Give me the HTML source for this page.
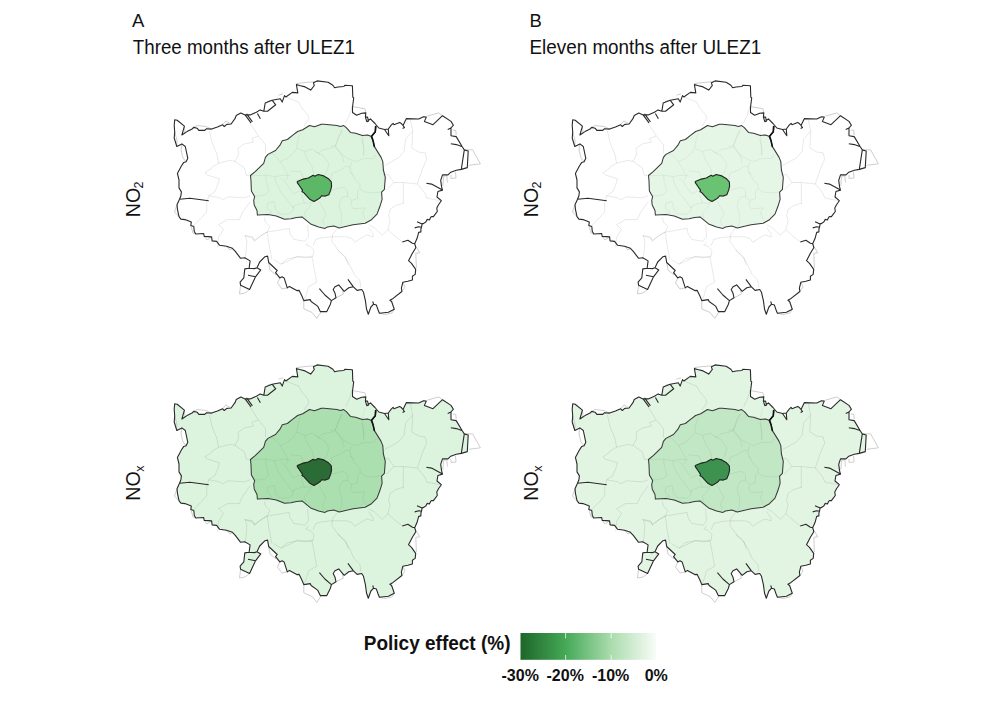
<!DOCTYPE html>
<html><head><meta charset="utf-8"><style>
html,body{margin:0;padding:0;background:#fff;}
body{width:1000px;height:707px;overflow:hidden;position:relative;font-family:"Liberation Sans",sans-serif;}
svg{position:absolute;left:0;top:0;}
</style></head><body>
<svg width="1000" height="707" viewBox="0 0 1000 707">
<defs>
<linearGradient id="cb" x1="0" x2="1" y1="0" y2="0">
<stop offset="0" stop-color="#1d6629"/>
<stop offset="0.333" stop-color="#45a957"/>
<stop offset="0.667" stop-color="#aadcad"/>
<stop offset="1" stop-color="#f8fcf7"/>
</linearGradient>
</defs>
<rect width="1000" height="707" fill="#fff"/>
<g font-family="Liberation Sans, sans-serif" fill="#111">
<text transform="translate(132,26.7) scale(1,1.025)" font-size="18.5">A</text>
<text transform="translate(132.8,54) scale(0.996,1.035)" font-size="18.85">Three months after ULEZ1</text>
<text transform="translate(529.5,26.7) scale(1,1.025)" font-size="18.5">B</text>
<text transform="translate(529.5,54) scale(0.996,1.035)" font-size="18.95">Eleven months after ULEZ1</text>
<text transform="translate(139.6,217.3) rotate(-90)" font-size="19.7">NO<tspan font-size="12.5" dy="3.5" dx="-0.8">2</tspan></text>
<text transform="translate(537.6,217.3) rotate(-90)" font-size="19.7">NO<tspan font-size="12.5" dy="3.5" dx="-0.8">2</tspan></text>
<text transform="translate(140,500.8) rotate(-90)" font-size="19.7">NO<tspan font-size="12.5" dy="3.5" dx="-0.5">x</tspan></text>
<text transform="translate(538,500.8) rotate(-90)" font-size="19.7">NO<tspan font-size="12.5" dy="3.5" dx="-0.5">x</tspan></text>
</g>
<g transform="translate(0,0)">
<path d="M174.7,119.8L177.2,120.2 184.4,126.1 181.9,135 187,131.6 192.1,129.1 193.7,127.4 197.1,128.2 198.8,130.4 204.8,130.4 206.5,128.7 211.6,129.1 217.5,127 222.6,124.8 224.3,126.5 226.8,124.4 231.1,124 235.3,118.1 236.2,115.5 240.8,113 245.1,114.9 250.2,114.9 256.4,112.2 260.1,109.9 263.8,111.3 265.2,103 272.1,100.2 280.3,98.8 282.2,102.1 284.5,95.6 285.8,97 292.3,92.4 297.8,92.9 296.4,84.6 299.6,85.5 305.1,86.9 310.7,90.1 314.3,85.5 313.4,82.8 317.1,80.9 328.1,82.3 332.9,85.3 334.6,87.8 338,87 343.9,86.5 344.8,85.3 352.4,85.7 352.8,97.1 353.7,98 352.5,107.3 352.5,112.5 356.7,115.2 361.7,113.3 365.8,112.9 365.4,117.1 366.8,121.7 370.4,118.9 375,123.5 378.8,128 384.5,129.5 388.8,135.7 388.3,129 391.2,125.2 393.1,123.3 394,124.7 399.7,122.4 401.6,123.8 403,125.5 406.4,118.6 418.7,119 423.5,116.7 426.3,117.1 424.4,121.4 433,124.7 442.5,115.7 451,121.4 453.4,125.2 451,128 451,135.7 456.2,136.6 462.4,147 464.3,149.9 468.2,151 467.3,167.6 461.3,169.4 456.3,170.3 450.8,172.2 448,174.9 442.5,174.9 440.7,180.4 441.6,186.9 442.5,190.1 437.9,191.5 437,197 441.3,200.7 438.5,204.7 436.8,208.1 437.3,211.5 435.1,214.3 433.4,216.6 431.5,216.5 430.5,217.7 429.4,220 427.1,219.4 426,221.7 423.8,223.4 422.1,223.9 421.5,227.3 420.9,229 420.9,231.9 418.7,232.4 417,238.6 414.7,243.7 415.8,247.7 412.4,253.3 408.5,260.7 411.5,263.4 415.7,269.4 415.2,274.4 412.4,276.3 412.4,280 407.8,281.3 402.8,282.3 401.4,288.2 401.9,291.5 393.1,298.4 389.9,300.2 391.6,301.5 394.3,309.2 388.4,312.3 379.4,313.2 378.1,310 376.4,305.1 373.6,304.2 370.9,307 368.3,314.2 366.5,309 365.4,300.6 363.5,292.3 361.7,289.5 357.1,290.4 353.4,286.8 348.8,287.7 344.2,291.4 338.7,284.9 335,286.8 333.2,289.5 335,293.2 336,297.8 331.4,300.6 330.4,304.2 326.8,311.6 320.3,311.6 317.6,306.1 311.1,301.5 310.2,299.6 303.8,300.6 301.9,296 299.2,290.4 296.8,290.6 289.4,286.4 287.3,287.9 284.1,277.9 282,276.8 279.8,277.9 275.6,272.6 277.2,270.5 268.7,262.5 267.6,256.1 265,256.7 259.7,262 257,267.8 260.8,269.9 255.5,276.8 249.6,289.5 240.6,285.3 240.1,282.1 243.8,277.9 244.8,268.9 249.1,268.3 250.1,260.9 244.8,257.7 240.6,258.3 235.3,251.4 232.4,248.3 226.5,246.3 219.6,245.3 216.6,241.4 212.1,240.9 211.6,236.9 204.2,236.4 203.7,233.5 195.8,234 194.3,231.5 193.8,226.5 190.8,225.5 191.3,222.1 184.9,219.6 180.9,219.1 179,216.6 177.5,209.7 177,204.8 179.5,199.3 180.9,195.8 181.4,191.9 179,187.9 179,180 177.4,173.4 181.4,166 183.6,162.6 186.1,161.7 187.8,158.3 185.3,146.5 181.9,143.9 176.8,146.5 174.2,138 174.7,132 174.2,125.3Z" fill="#ffffff" stroke="none"/>
<path d="M250.5,175.5L255.2,171.7 263.7,163.3 265.4,157.3 267.9,154.4 275.5,150.5 279.8,145.4 282.3,140.8 287.4,139.5 292.5,135.3 297.6,131.5 302.7,129.8 309.5,125.5 314.5,126.8 321.3,124.2 324.2,124.3 337,125.6 340.4,126.5 343.7,125.6 346.3,127.7 350.5,132.4 355.6,133.2 362.4,135.4 367.5,134.9 370.9,136.2 373,140.4 374.3,146.4 381.1,157.4 382.8,161.6 383.4,170 385.3,177.4 384.4,189.3 381.6,192.1 382.1,199.4 379.8,206.8 377,214.1 371.5,219.7 365.1,223.3 353.1,224.7 347.6,226.1 339.3,227.9 333.8,226.1 327.4,227 325,228.4 318.6,227 311.2,224.3 302,216.9 296.5,217.4 291,218.7 284.5,219.2 276.3,216 268,214.6 257.4,215.1 257,210.5 254.2,204.9 253.7,200.3 254.7,196.7 251.4,191.1 251,181Z" fill="#dcf3de" stroke="none"/>
<path d="M297.3,181.6L303.3,179.1 308.3,178 313.2,175.2 314.7,176.3 318.2,174.5 323.8,175.9 328.1,178.4 331.3,181.9 331.6,186.2 330.6,190.4 328.8,194.7 325.3,196.1 321.7,195.7 320.3,197.5 317.5,199.6 314,201.4 309.7,199.2 306.2,195.4 304,192.9 301.9,191.5 302.6,190.4 299.8,186.2 297.3,182.6Z" fill="#5cb866" stroke="none"/>
<path d="M184.4,126.1 L181.9,135 L187,131.6 Z" fill="#fff" stroke="none"/>
<path d="M296,83.7L305,82.5 314.3,81.8 M278.5,95.2L283.1,93.8 M352.1,106.5L364.9,108.8 366,112.8 M427.3,116.2L438.7,112.9 442.5,115.7 M452.9,130L455.8,130.4 456.2,135.2 M464.5,150L469.5,149.8 472.6,149.8 480.4,163.8 468.7,165.3 M442.8,186L443.6,176.5 446.8,175.6 447.4,182.5 M451,175L451,178.5 456,178 455.5,172 M414.7,244.3L419.8,252.8 415.8,253.3 416.4,268.1 M401.9,291.5L405,287 402.8,282.3 M394.3,309.2L392,313 385,314.5 379.4,313.2 M336,297.8L343.3,294.1 342.4,289.5 M303.8,300.6L303.8,308.8 312.1,312.5 316.8,318.4 321.2,311.8 M268.7,262.5L270,270 276,275 275.6,272.6 M279.8,277.9L277.5,283 282,289 287.3,287.9 M240.6,285.3L239.5,294 245,293 249.6,289.5 M174.7,132L177,140 176.8,146.5 M181.9,143.9L181,150 183,158 186.1,161.7 M177,204.8L174.5,212 178.7,216.4 M190.8,225.5L193,233 195.8,234 M204.2,236.4L207,240 211.6,236.9 M226.5,246.3L230,250 232.4,248.3 M181.9,135L185,132 184.4,126.1 M192,128.5L197,125.5 206,126.5 211.6,129.1 M222.6,124.8L226,121 231.1,124 M266,103L268,101 272.2,100.4" fill="none" stroke="#c8c8c8" stroke-width="0.9" stroke-linejoin="round"/>
<path d="M209.4,131L212.2,143 216.8,154 218.6,163.2 M218.6,163.2L229.6,160.4 235.1,161.4 244.3,167.8 246.2,175.1 250.8,176.1 M218.6,163.2L212.2,166.9 211.3,168.7 204.8,172.8 207.6,175.1 219.5,178.8 217.7,185 214.6,191.9 208.7,195.8 206.7,202.8 206.7,211.7 199.8,219.6 192.8,226.5 M235.1,161.4L238.8,154 237.9,148.5 244.3,143.9 253.5,142.1 251.7,138.4 258.1,136.1 M249.9,122.8L258.1,135.6 265.5,144.8 265.5,153.1 M208.7,195.8L219.6,197.8 222.5,199.8 228.5,196.8 244.3,197.8 250.2,195.8 M250.2,201.8L242.3,212.7 239.4,219.6 227.5,219.6 218.6,224.6 223.5,229.5 218.6,237.4 217.6,247.3 M244.3,235.4L253.2,238.4 254.2,240.4 264.1,233.5 267.2,232.1 M264.4,217.4L265.3,222 269.9,226.5 267.2,232.1 259.8,236.7 254.3,241.3 252.5,236.7 245.1,235.7 246.9,240.3 246,254.1 244.2,259.6 M267.2,232.1L289.2,228.4 290.1,233.9 293.8,239.4 304.9,241.3 308.5,236.7 307.6,224.7 M267.2,232.1L269,244.9 270.8,254.1 271.8,259.6 M273.6,259.6L281,264.2 287.4,258.7 297.5,256.9 304.9,257.8 313.1,256 314,250.4 310.4,246.8 305.8,244.9 308.5,242.2 M313.1,245.8L315.9,239.4 323.2,237.6 331.8,236.8 M313.1,256L312.1,257.4 316.7,282.2 308.4,286.8 306.5,294.1 303.8,300.6 M312.1,257.4L297.4,256.4 290,260.1 281,264.2 M337.8,250L345.1,257.4 349.7,264.7 354.3,274.8 359.9,280.3 360.8,287.7 M338.3,227.6L332.8,234 331.8,241.4 339.2,251.5 345.6,257 348.4,265 M368.6,227.6L373.2,234 373.2,236.8 366.8,234.9 360.3,238.6 354.8,242.3 352.1,238.6 346.5,236.8 339.2,236.8 331.8,236.8 M403.3,203.2L395.6,205.6 390.1,209.5 388.6,215.7 390.1,221.1 387.8,229.7 382.4,235.4 374.1,227.6 368.6,224.8 M387.8,229.7L395.6,236.7 402.6,242.1 M285.8,97L298.7,102.1 301.5,107.6 307.9,114.9 308.8,118.6 304.2,126 M352.1,106L349.3,115.2 345.6,122.6 M410.3,119.4L412.7,131.1 405.7,138.9 404.1,151.3 398.7,157.6 390.9,162.2 384.7,165.3 M412.7,131.1L411.9,148.2 418.9,152.1 425.1,152.9 426.7,159.1 422,170 417.3,184 M417.3,184L403.3,182.5 394,182.5 388.6,174.7 383.1,174.7 M403.3,182.5L403.3,204.2 M417.3,184L425.1,193.4 426.7,198 434.5,199.6 440.7,200.7 M394,182.5L386.2,190.2" fill="none" stroke="#000" stroke-opacity="0.1" stroke-width="0.9" stroke-linejoin="round"/>
<path d="M300.6,132.8L298.2,139 296.7,148.3 293.6,153 287.3,158.4 280.3,161.6 274.9,155.3 272.6,153.8 267.9,154.4 M280.3,161.6L285,169.3 288.1,174.8 286.6,180 M296.7,148.3L304.4,151.4 312.2,149.1 320,154.6 M304.4,151.4L307.6,160 312.2,167 313.8,174 M251,175.9L265.6,175.1 274.9,176.7 283.4,175.1 290.4,175.9 M290.4,170.9L300.6,171.7 304.4,180 M342.2,129.7L338.3,137.4 335.2,146.8 330.6,148.3 322,149.9 318.9,153 M335.2,146.8L341.4,154.6 349.2,159.2 355.4,161.6 361.7,159.2 364.8,158.4 374.1,158.4 375.7,154.6 M361.7,139L364,148.3 363.2,156.1 M315,151.4L323.6,156.1 329,163.9 326.7,171.7 323.8,175.9 M351.6,162.3L350,167 346.1,166.2 340.7,170.1 332.1,173.2 330.6,180 M350,167L350.8,171.7 355.4,180 356.7,181.2 360,184.5 360,188.7 M342,130L335.5,145.6 M265.6,175.1L266.3,182.1 268.7,190.7 265.6,194.6 257.8,196.1 253.1,194.6 M274.9,176.7L275.7,182.1 279.6,189.9 282.7,194.6 287.3,200 292.8,207.8 293.6,206.2 M281.1,178.2L285,181.3 288.9,187.6 293.6,193.8 299.8,190.7 M267.9,203.1L274.1,201.6 275.7,209.3 279.6,214 288.9,214 292.8,210.9 293.6,206.2 301.3,203.1 309.1,203.1 313.8,201.6 M267.9,203.1L267.1,208.6 271.8,212.4 268,214.6 M301.3,193.8L304.4,203.1 M312.2,201.6L309.1,207.8 304.4,212.4 306,218.7 M331.7,190.3L340,187.8 345,187.8 347.5,191.2 347.5,196.2 342.5,197 340,201.2 339.2,207 341.7,213.7 341.7,221.2 339.2,227.9 M347.5,196.2L351.7,200.4 357.5,198.7 357.5,191.2 360,188.7 365,192 373.4,192.9 380.9,192 M353.4,174.5L350,172 M351.7,200.4L350.9,205.4 353.4,208.7 365,207.9 362.5,212.9 365,219.5 M319.2,201.2L324.2,210.4 325.8,213.7 322.5,220.4 324.2,225.4 M364.9,124.4L362.2,133.6 363.1,142.8 364,154.7 M330,146.5L335.5,145.6 342,154.7 344,163" fill="none" stroke="#000" stroke-opacity="0.06" stroke-width="0.9" stroke-linejoin="round"/>
<path d="M250.5,175.5L255.2,171.7 263.7,163.3 265.4,157.3 267.9,154.4 275.5,150.5 279.8,145.4 282.3,140.8 287.4,139.5 292.5,135.3 297.6,131.5 302.7,129.8 309.5,125.5 314.5,126.8 321.3,124.2 324.2,124.3 337,125.6 340.4,126.5 343.7,125.6 346.3,127.7 350.5,132.4 355.6,133.2 362.4,135.4 367.5,134.9 370.9,136.2 373,140.4 374.3,146.4 381.1,157.4 382.8,161.6 383.4,170 385.3,177.4 384.4,189.3 381.6,192.1 382.1,199.4 379.8,206.8 377,214.1 371.5,219.7 365.1,223.3 353.1,224.7 347.6,226.1 339.3,227.9 333.8,226.1 327.4,227 325,228.4 318.6,227 311.2,224.3 302,216.9 296.5,217.4 291,218.7 284.5,219.2 276.3,216 268,214.6 257.4,215.1 257,210.5 254.2,204.9 253.7,200.3 254.7,196.7 251.4,191.1 251,181Z" fill="none" stroke="#3a3a3a" stroke-width="1.05" stroke-linejoin="round"/>
<path d="M297.3,181.6L303.3,179.1 308.3,178 313.2,175.2 314.7,176.3 318.2,174.5 323.8,175.9 328.1,178.4 331.3,181.9 331.6,186.2 330.6,190.4 328.8,194.7 325.3,196.1 321.7,195.7 320.3,197.5 317.5,199.6 314,201.4 309.7,199.2 306.2,195.4 304,192.9 301.9,191.5 302.6,190.4 299.8,186.2 297.3,182.6Z" fill="none" stroke="#222" stroke-width="1.1" stroke-linejoin="round"/>
<path d="M174.7,119.8L177.2,120.2 184.4,126.1 181.9,135 187,131.6 192.1,129.1 193.7,127.4 197.1,128.2 198.8,130.4 204.8,130.4 206.5,128.7 211.6,129.1 217.5,127 222.6,124.8 224.3,126.5 226.8,124.4 231.1,124 235.3,118.1 236.2,115.5 240.8,113 245.1,114.9 250.2,114.9 256.4,112.2 260.1,109.9 263.8,111.3 265.2,103 272.1,100.2 280.3,98.8 282.2,102.1 284.5,95.6 285.8,97 292.3,92.4 297.8,92.9 296.4,84.6 299.6,85.5 305.1,86.9 310.7,90.1 314.3,85.5 313.4,82.8 317.1,80.9 328.1,82.3 332.9,85.3 334.6,87.8 338,87 343.9,86.5 344.8,85.3 352.4,85.7 352.8,97.1 353.7,98 352.5,107.3 352.5,112.5 356.7,115.2 361.7,113.3 365.8,112.9 365.4,117.1 366.8,121.7 370.4,118.9 375,123.5 378.8,128 384.5,129.5 388.8,135.7 388.3,129 391.2,125.2 393.1,123.3 394,124.7 399.7,122.4 401.6,123.8 403,125.5 406.4,118.6 418.7,119 423.5,116.7 426.3,117.1 424.4,121.4 433,124.7 442.5,115.7 451,121.4 453.4,125.2 451,128 451,135.7 456.2,136.6 462.4,147 464.3,149.9 468.2,151 467.3,167.6 461.3,169.4 456.3,170.3 450.8,172.2 448,174.9 442.5,174.9 440.7,180.4 441.6,186.9 442.5,190.1 437.9,191.5 437,197 441.3,200.7 438.5,204.7 436.8,208.1 437.3,211.5 435.1,214.3 433.4,216.6 431.5,216.5 430.5,217.7 429.4,220 427.1,219.4 426,221.7 423.8,223.4 422.1,223.9 421.5,227.3 420.9,229 420.9,231.9 418.7,232.4 417,238.6 414.7,243.7 415.8,247.7 412.4,253.3 408.5,260.7 411.5,263.4 415.7,269.4 415.2,274.4 412.4,276.3 412.4,280 407.8,281.3 402.8,282.3 401.4,288.2 401.9,291.5 393.1,298.4 389.9,300.2 391.6,301.5 394.3,309.2 388.4,312.3 379.4,313.2 378.1,310 376.4,305.1 373.6,304.2 370.9,307 368.3,314.2 366.5,309 365.4,300.6 363.5,292.3 361.7,289.5 357.1,290.4 353.4,286.8 348.8,287.7 344.2,291.4 338.7,284.9 335,286.8 333.2,289.5 335,293.2 336,297.8 331.4,300.6 330.4,304.2 326.8,311.6 320.3,311.6 317.6,306.1 311.1,301.5 310.2,299.6 303.8,300.6 301.9,296 299.2,290.4 296.8,290.6 289.4,286.4 287.3,287.9 284.1,277.9 282,276.8 279.8,277.9 275.6,272.6 277.2,270.5 268.7,262.5 267.6,256.1 265,256.7 259.7,262 257,267.8 260.8,269.9 255.5,276.8 249.6,289.5 240.6,285.3 240.1,282.1 243.8,277.9 244.8,268.9 249.1,268.3 250.1,260.9 244.8,257.7 240.6,258.3 235.3,251.4 232.4,248.3 226.5,246.3 219.6,245.3 216.6,241.4 212.1,240.9 211.6,236.9 204.2,236.4 203.7,233.5 195.8,234 194.3,231.5 193.8,226.5 190.8,225.5 191.3,222.1 184.9,219.6 180.9,219.1 179,216.6 177.5,209.7 177,204.8 179.5,199.3 180.9,195.8 181.4,191.9 179,187.9 179,180 177.4,173.4 181.4,166 183.6,162.6 186.1,161.7 187.8,158.3 185.3,146.5 181.9,143.9 176.8,146.5 174.2,138 174.7,132 174.2,125.3Z M263.8,111.3L267.5,111.3 275.7,104.8 272.1,100.2 M245.1,114.9L251,122.9 M246.6,113.9L252.4,121.8 M257.4,113.5L260.4,118.7 M403,125.5L404.5,127.6 402.6,128.5 M464.3,149.9L461.3,169.4 M451,128L447.7,129.5 M461.8,146.4L456.3,144.6 450.8,143.7 M442.5,190.1L431.5,184.1 426.4,183.2 M422.1,223.9L417,221.7 M421.5,227.3L418.7,226.8 414.7,227.9 M414.7,243.7L412.4,243.2 407.9,240.3 402.3,242 M179.5,199.3L189.9,198.3 208.7,200.8 M255.5,276.8L248,275.2 M376,126.3L375.5,131.8 371.4,136.4 M353.4,286.8L347.9,279.4 M373.6,304.2L372.7,301.5 M331.4,300.6L324.9,295 319.4,288.6 M365.4,117.1L367.6,117 368.4,121.3 366.8,121.7 M384.5,129.5L388.3,129 M244.8,268.9L249.1,268.3 254.4,268.6 257,267.8" fill="none" stroke="#2a2a2a" stroke-width="1.1" stroke-linejoin="round"/>
<path d="M375.6,126.5 L375.2,131.8 L371.6,136.2 L373,140.4 L374.3,146.4" fill="none" stroke="#111" stroke-width="1.6" stroke-linejoin="round" stroke-linecap="round"/>
</g><g transform="translate(398,0)">
<path d="M174.7,119.8L177.2,120.2 184.4,126.1 181.9,135 187,131.6 192.1,129.1 193.7,127.4 197.1,128.2 198.8,130.4 204.8,130.4 206.5,128.7 211.6,129.1 217.5,127 222.6,124.8 224.3,126.5 226.8,124.4 231.1,124 235.3,118.1 236.2,115.5 240.8,113 245.1,114.9 250.2,114.9 256.4,112.2 260.1,109.9 263.8,111.3 265.2,103 272.1,100.2 280.3,98.8 282.2,102.1 284.5,95.6 285.8,97 292.3,92.4 297.8,92.9 296.4,84.6 299.6,85.5 305.1,86.9 310.7,90.1 314.3,85.5 313.4,82.8 317.1,80.9 328.1,82.3 332.9,85.3 334.6,87.8 338,87 343.9,86.5 344.8,85.3 352.4,85.7 352.8,97.1 353.7,98 352.5,107.3 352.5,112.5 356.7,115.2 361.7,113.3 365.8,112.9 365.4,117.1 366.8,121.7 370.4,118.9 375,123.5 378.8,128 384.5,129.5 388.8,135.7 388.3,129 391.2,125.2 393.1,123.3 394,124.7 399.7,122.4 401.6,123.8 403,125.5 406.4,118.6 418.7,119 423.5,116.7 426.3,117.1 424.4,121.4 433,124.7 442.5,115.7 451,121.4 453.4,125.2 451,128 451,135.7 456.2,136.6 462.4,147 464.3,149.9 468.2,151 467.3,167.6 461.3,169.4 456.3,170.3 450.8,172.2 448,174.9 442.5,174.9 440.7,180.4 441.6,186.9 442.5,190.1 437.9,191.5 437,197 441.3,200.7 438.5,204.7 436.8,208.1 437.3,211.5 435.1,214.3 433.4,216.6 431.5,216.5 430.5,217.7 429.4,220 427.1,219.4 426,221.7 423.8,223.4 422.1,223.9 421.5,227.3 420.9,229 420.9,231.9 418.7,232.4 417,238.6 414.7,243.7 415.8,247.7 412.4,253.3 408.5,260.7 411.5,263.4 415.7,269.4 415.2,274.4 412.4,276.3 412.4,280 407.8,281.3 402.8,282.3 401.4,288.2 401.9,291.5 393.1,298.4 389.9,300.2 391.6,301.5 394.3,309.2 388.4,312.3 379.4,313.2 378.1,310 376.4,305.1 373.6,304.2 370.9,307 368.3,314.2 366.5,309 365.4,300.6 363.5,292.3 361.7,289.5 357.1,290.4 353.4,286.8 348.8,287.7 344.2,291.4 338.7,284.9 335,286.8 333.2,289.5 335,293.2 336,297.8 331.4,300.6 330.4,304.2 326.8,311.6 320.3,311.6 317.6,306.1 311.1,301.5 310.2,299.6 303.8,300.6 301.9,296 299.2,290.4 296.8,290.6 289.4,286.4 287.3,287.9 284.1,277.9 282,276.8 279.8,277.9 275.6,272.6 277.2,270.5 268.7,262.5 267.6,256.1 265,256.7 259.7,262 257,267.8 260.8,269.9 255.5,276.8 249.6,289.5 240.6,285.3 240.1,282.1 243.8,277.9 244.8,268.9 249.1,268.3 250.1,260.9 244.8,257.7 240.6,258.3 235.3,251.4 232.4,248.3 226.5,246.3 219.6,245.3 216.6,241.4 212.1,240.9 211.6,236.9 204.2,236.4 203.7,233.5 195.8,234 194.3,231.5 193.8,226.5 190.8,225.5 191.3,222.1 184.9,219.6 180.9,219.1 179,216.6 177.5,209.7 177,204.8 179.5,199.3 180.9,195.8 181.4,191.9 179,187.9 179,180 177.4,173.4 181.4,166 183.6,162.6 186.1,161.7 187.8,158.3 185.3,146.5 181.9,143.9 176.8,146.5 174.2,138 174.7,132 174.2,125.3Z" fill="#ffffff" stroke="none"/>
<path d="M250.5,175.5L255.2,171.7 263.7,163.3 265.4,157.3 267.9,154.4 275.5,150.5 279.8,145.4 282.3,140.8 287.4,139.5 292.5,135.3 297.6,131.5 302.7,129.8 309.5,125.5 314.5,126.8 321.3,124.2 324.2,124.3 337,125.6 340.4,126.5 343.7,125.6 346.3,127.7 350.5,132.4 355.6,133.2 362.4,135.4 367.5,134.9 370.9,136.2 373,140.4 374.3,146.4 381.1,157.4 382.8,161.6 383.4,170 385.3,177.4 384.4,189.3 381.6,192.1 382.1,199.4 379.8,206.8 377,214.1 371.5,219.7 365.1,223.3 353.1,224.7 347.6,226.1 339.3,227.9 333.8,226.1 327.4,227 325,228.4 318.6,227 311.2,224.3 302,216.9 296.5,217.4 291,218.7 284.5,219.2 276.3,216 268,214.6 257.4,215.1 257,210.5 254.2,204.9 253.7,200.3 254.7,196.7 251.4,191.1 251,181Z" fill="#e5f6e7" stroke="none"/>
<path d="M297.3,181.6L303.3,179.1 308.3,178 313.2,175.2 314.7,176.3 318.2,174.5 323.8,175.9 328.1,178.4 331.3,181.9 331.6,186.2 330.6,190.4 328.8,194.7 325.3,196.1 321.7,195.7 320.3,197.5 317.5,199.6 314,201.4 309.7,199.2 306.2,195.4 304,192.9 301.9,191.5 302.6,190.4 299.8,186.2 297.3,182.6Z" fill="#6ac273" stroke="none"/>
<path d="M184.4,126.1 L181.9,135 L187,131.6 Z" fill="#fff" stroke="none"/>
<path d="M296,83.7L305,82.5 314.3,81.8 M278.5,95.2L283.1,93.8 M352.1,106.5L364.9,108.8 366,112.8 M427.3,116.2L438.7,112.9 442.5,115.7 M452.9,130L455.8,130.4 456.2,135.2 M464.5,150L469.5,149.8 472.6,149.8 480.4,163.8 468.7,165.3 M442.8,186L443.6,176.5 446.8,175.6 447.4,182.5 M451,175L451,178.5 456,178 455.5,172 M414.7,244.3L419.8,252.8 415.8,253.3 416.4,268.1 M401.9,291.5L405,287 402.8,282.3 M394.3,309.2L392,313 385,314.5 379.4,313.2 M336,297.8L343.3,294.1 342.4,289.5 M303.8,300.6L303.8,308.8 312.1,312.5 316.8,318.4 321.2,311.8 M268.7,262.5L270,270 276,275 275.6,272.6 M279.8,277.9L277.5,283 282,289 287.3,287.9 M240.6,285.3L239.5,294 245,293 249.6,289.5 M174.7,132L177,140 176.8,146.5 M181.9,143.9L181,150 183,158 186.1,161.7 M177,204.8L174.5,212 178.7,216.4 M190.8,225.5L193,233 195.8,234 M204.2,236.4L207,240 211.6,236.9 M226.5,246.3L230,250 232.4,248.3 M181.9,135L185,132 184.4,126.1 M192,128.5L197,125.5 206,126.5 211.6,129.1 M222.6,124.8L226,121 231.1,124 M266,103L268,101 272.2,100.4" fill="none" stroke="#c8c8c8" stroke-width="0.9" stroke-linejoin="round"/>
<path d="M209.4,131L212.2,143 216.8,154 218.6,163.2 M218.6,163.2L229.6,160.4 235.1,161.4 244.3,167.8 246.2,175.1 250.8,176.1 M218.6,163.2L212.2,166.9 211.3,168.7 204.8,172.8 207.6,175.1 219.5,178.8 217.7,185 214.6,191.9 208.7,195.8 206.7,202.8 206.7,211.7 199.8,219.6 192.8,226.5 M235.1,161.4L238.8,154 237.9,148.5 244.3,143.9 253.5,142.1 251.7,138.4 258.1,136.1 M249.9,122.8L258.1,135.6 265.5,144.8 265.5,153.1 M208.7,195.8L219.6,197.8 222.5,199.8 228.5,196.8 244.3,197.8 250.2,195.8 M250.2,201.8L242.3,212.7 239.4,219.6 227.5,219.6 218.6,224.6 223.5,229.5 218.6,237.4 217.6,247.3 M244.3,235.4L253.2,238.4 254.2,240.4 264.1,233.5 267.2,232.1 M264.4,217.4L265.3,222 269.9,226.5 267.2,232.1 259.8,236.7 254.3,241.3 252.5,236.7 245.1,235.7 246.9,240.3 246,254.1 244.2,259.6 M267.2,232.1L289.2,228.4 290.1,233.9 293.8,239.4 304.9,241.3 308.5,236.7 307.6,224.7 M267.2,232.1L269,244.9 270.8,254.1 271.8,259.6 M273.6,259.6L281,264.2 287.4,258.7 297.5,256.9 304.9,257.8 313.1,256 314,250.4 310.4,246.8 305.8,244.9 308.5,242.2 M313.1,245.8L315.9,239.4 323.2,237.6 331.8,236.8 M313.1,256L312.1,257.4 316.7,282.2 308.4,286.8 306.5,294.1 303.8,300.6 M312.1,257.4L297.4,256.4 290,260.1 281,264.2 M337.8,250L345.1,257.4 349.7,264.7 354.3,274.8 359.9,280.3 360.8,287.7 M338.3,227.6L332.8,234 331.8,241.4 339.2,251.5 345.6,257 348.4,265 M368.6,227.6L373.2,234 373.2,236.8 366.8,234.9 360.3,238.6 354.8,242.3 352.1,238.6 346.5,236.8 339.2,236.8 331.8,236.8 M403.3,203.2L395.6,205.6 390.1,209.5 388.6,215.7 390.1,221.1 387.8,229.7 382.4,235.4 374.1,227.6 368.6,224.8 M387.8,229.7L395.6,236.7 402.6,242.1 M285.8,97L298.7,102.1 301.5,107.6 307.9,114.9 308.8,118.6 304.2,126 M352.1,106L349.3,115.2 345.6,122.6 M410.3,119.4L412.7,131.1 405.7,138.9 404.1,151.3 398.7,157.6 390.9,162.2 384.7,165.3 M412.7,131.1L411.9,148.2 418.9,152.1 425.1,152.9 426.7,159.1 422,170 417.3,184 M417.3,184L403.3,182.5 394,182.5 388.6,174.7 383.1,174.7 M403.3,182.5L403.3,204.2 M417.3,184L425.1,193.4 426.7,198 434.5,199.6 440.7,200.7 M394,182.5L386.2,190.2" fill="none" stroke="#000" stroke-opacity="0.1" stroke-width="0.9" stroke-linejoin="round"/>
<path d="M300.6,132.8L298.2,139 296.7,148.3 293.6,153 287.3,158.4 280.3,161.6 274.9,155.3 272.6,153.8 267.9,154.4 M280.3,161.6L285,169.3 288.1,174.8 286.6,180 M296.7,148.3L304.4,151.4 312.2,149.1 320,154.6 M304.4,151.4L307.6,160 312.2,167 313.8,174 M251,175.9L265.6,175.1 274.9,176.7 283.4,175.1 290.4,175.9 M290.4,170.9L300.6,171.7 304.4,180 M342.2,129.7L338.3,137.4 335.2,146.8 330.6,148.3 322,149.9 318.9,153 M335.2,146.8L341.4,154.6 349.2,159.2 355.4,161.6 361.7,159.2 364.8,158.4 374.1,158.4 375.7,154.6 M361.7,139L364,148.3 363.2,156.1 M315,151.4L323.6,156.1 329,163.9 326.7,171.7 323.8,175.9 M351.6,162.3L350,167 346.1,166.2 340.7,170.1 332.1,173.2 330.6,180 M350,167L350.8,171.7 355.4,180 356.7,181.2 360,184.5 360,188.7 M342,130L335.5,145.6 M265.6,175.1L266.3,182.1 268.7,190.7 265.6,194.6 257.8,196.1 253.1,194.6 M274.9,176.7L275.7,182.1 279.6,189.9 282.7,194.6 287.3,200 292.8,207.8 293.6,206.2 M281.1,178.2L285,181.3 288.9,187.6 293.6,193.8 299.8,190.7 M267.9,203.1L274.1,201.6 275.7,209.3 279.6,214 288.9,214 292.8,210.9 293.6,206.2 301.3,203.1 309.1,203.1 313.8,201.6 M267.9,203.1L267.1,208.6 271.8,212.4 268,214.6 M301.3,193.8L304.4,203.1 M312.2,201.6L309.1,207.8 304.4,212.4 306,218.7 M331.7,190.3L340,187.8 345,187.8 347.5,191.2 347.5,196.2 342.5,197 340,201.2 339.2,207 341.7,213.7 341.7,221.2 339.2,227.9 M347.5,196.2L351.7,200.4 357.5,198.7 357.5,191.2 360,188.7 365,192 373.4,192.9 380.9,192 M353.4,174.5L350,172 M351.7,200.4L350.9,205.4 353.4,208.7 365,207.9 362.5,212.9 365,219.5 M319.2,201.2L324.2,210.4 325.8,213.7 322.5,220.4 324.2,225.4 M364.9,124.4L362.2,133.6 363.1,142.8 364,154.7 M330,146.5L335.5,145.6 342,154.7 344,163" fill="none" stroke="#000" stroke-opacity="0.06" stroke-width="0.9" stroke-linejoin="round"/>
<path d="M250.5,175.5L255.2,171.7 263.7,163.3 265.4,157.3 267.9,154.4 275.5,150.5 279.8,145.4 282.3,140.8 287.4,139.5 292.5,135.3 297.6,131.5 302.7,129.8 309.5,125.5 314.5,126.8 321.3,124.2 324.2,124.3 337,125.6 340.4,126.5 343.7,125.6 346.3,127.7 350.5,132.4 355.6,133.2 362.4,135.4 367.5,134.9 370.9,136.2 373,140.4 374.3,146.4 381.1,157.4 382.8,161.6 383.4,170 385.3,177.4 384.4,189.3 381.6,192.1 382.1,199.4 379.8,206.8 377,214.1 371.5,219.7 365.1,223.3 353.1,224.7 347.6,226.1 339.3,227.9 333.8,226.1 327.4,227 325,228.4 318.6,227 311.2,224.3 302,216.9 296.5,217.4 291,218.7 284.5,219.2 276.3,216 268,214.6 257.4,215.1 257,210.5 254.2,204.9 253.7,200.3 254.7,196.7 251.4,191.1 251,181Z" fill="none" stroke="#3a3a3a" stroke-width="1.05" stroke-linejoin="round"/>
<path d="M297.3,181.6L303.3,179.1 308.3,178 313.2,175.2 314.7,176.3 318.2,174.5 323.8,175.9 328.1,178.4 331.3,181.9 331.6,186.2 330.6,190.4 328.8,194.7 325.3,196.1 321.7,195.7 320.3,197.5 317.5,199.6 314,201.4 309.7,199.2 306.2,195.4 304,192.9 301.9,191.5 302.6,190.4 299.8,186.2 297.3,182.6Z" fill="none" stroke="#222" stroke-width="1.1" stroke-linejoin="round"/>
<path d="M174.7,119.8L177.2,120.2 184.4,126.1 181.9,135 187,131.6 192.1,129.1 193.7,127.4 197.1,128.2 198.8,130.4 204.8,130.4 206.5,128.7 211.6,129.1 217.5,127 222.6,124.8 224.3,126.5 226.8,124.4 231.1,124 235.3,118.1 236.2,115.5 240.8,113 245.1,114.9 250.2,114.9 256.4,112.2 260.1,109.9 263.8,111.3 265.2,103 272.1,100.2 280.3,98.8 282.2,102.1 284.5,95.6 285.8,97 292.3,92.4 297.8,92.9 296.4,84.6 299.6,85.5 305.1,86.9 310.7,90.1 314.3,85.5 313.4,82.8 317.1,80.9 328.1,82.3 332.9,85.3 334.6,87.8 338,87 343.9,86.5 344.8,85.3 352.4,85.7 352.8,97.1 353.7,98 352.5,107.3 352.5,112.5 356.7,115.2 361.7,113.3 365.8,112.9 365.4,117.1 366.8,121.7 370.4,118.9 375,123.5 378.8,128 384.5,129.5 388.8,135.7 388.3,129 391.2,125.2 393.1,123.3 394,124.7 399.7,122.4 401.6,123.8 403,125.5 406.4,118.6 418.7,119 423.5,116.7 426.3,117.1 424.4,121.4 433,124.7 442.5,115.7 451,121.4 453.4,125.2 451,128 451,135.7 456.2,136.6 462.4,147 464.3,149.9 468.2,151 467.3,167.6 461.3,169.4 456.3,170.3 450.8,172.2 448,174.9 442.5,174.9 440.7,180.4 441.6,186.9 442.5,190.1 437.9,191.5 437,197 441.3,200.7 438.5,204.7 436.8,208.1 437.3,211.5 435.1,214.3 433.4,216.6 431.5,216.5 430.5,217.7 429.4,220 427.1,219.4 426,221.7 423.8,223.4 422.1,223.9 421.5,227.3 420.9,229 420.9,231.9 418.7,232.4 417,238.6 414.7,243.7 415.8,247.7 412.4,253.3 408.5,260.7 411.5,263.4 415.7,269.4 415.2,274.4 412.4,276.3 412.4,280 407.8,281.3 402.8,282.3 401.4,288.2 401.9,291.5 393.1,298.4 389.9,300.2 391.6,301.5 394.3,309.2 388.4,312.3 379.4,313.2 378.1,310 376.4,305.1 373.6,304.2 370.9,307 368.3,314.2 366.5,309 365.4,300.6 363.5,292.3 361.7,289.5 357.1,290.4 353.4,286.8 348.8,287.7 344.2,291.4 338.7,284.9 335,286.8 333.2,289.5 335,293.2 336,297.8 331.4,300.6 330.4,304.2 326.8,311.6 320.3,311.6 317.6,306.1 311.1,301.5 310.2,299.6 303.8,300.6 301.9,296 299.2,290.4 296.8,290.6 289.4,286.4 287.3,287.9 284.1,277.9 282,276.8 279.8,277.9 275.6,272.6 277.2,270.5 268.7,262.5 267.6,256.1 265,256.7 259.7,262 257,267.8 260.8,269.9 255.5,276.8 249.6,289.5 240.6,285.3 240.1,282.1 243.8,277.9 244.8,268.9 249.1,268.3 250.1,260.9 244.8,257.7 240.6,258.3 235.3,251.4 232.4,248.3 226.5,246.3 219.6,245.3 216.6,241.4 212.1,240.9 211.6,236.9 204.2,236.4 203.7,233.5 195.8,234 194.3,231.5 193.8,226.5 190.8,225.5 191.3,222.1 184.9,219.6 180.9,219.1 179,216.6 177.5,209.7 177,204.8 179.5,199.3 180.9,195.8 181.4,191.9 179,187.9 179,180 177.4,173.4 181.4,166 183.6,162.6 186.1,161.7 187.8,158.3 185.3,146.5 181.9,143.9 176.8,146.5 174.2,138 174.7,132 174.2,125.3Z M263.8,111.3L267.5,111.3 275.7,104.8 272.1,100.2 M245.1,114.9L251,122.9 M246.6,113.9L252.4,121.8 M257.4,113.5L260.4,118.7 M403,125.5L404.5,127.6 402.6,128.5 M464.3,149.9L461.3,169.4 M451,128L447.7,129.5 M461.8,146.4L456.3,144.6 450.8,143.7 M442.5,190.1L431.5,184.1 426.4,183.2 M422.1,223.9L417,221.7 M421.5,227.3L418.7,226.8 414.7,227.9 M414.7,243.7L412.4,243.2 407.9,240.3 402.3,242 M179.5,199.3L189.9,198.3 208.7,200.8 M255.5,276.8L248,275.2 M376,126.3L375.5,131.8 371.4,136.4 M353.4,286.8L347.9,279.4 M373.6,304.2L372.7,301.5 M331.4,300.6L324.9,295 319.4,288.6 M365.4,117.1L367.6,117 368.4,121.3 366.8,121.7 M384.5,129.5L388.3,129 M244.8,268.9L249.1,268.3 254.4,268.6 257,267.8" fill="none" stroke="#2a2a2a" stroke-width="1.1" stroke-linejoin="round"/>
<path d="M375.6,126.5 L375.2,131.8 L371.6,136.2 L373,140.4 L374.3,146.4" fill="none" stroke="#111" stroke-width="1.6" stroke-linejoin="round" stroke-linecap="round"/>
</g><g transform="translate(0,284)">
<path d="M174.7,119.8L177.2,120.2 184.4,126.1 181.9,135 187,131.6 192.1,129.1 193.7,127.4 197.1,128.2 198.8,130.4 204.8,130.4 206.5,128.7 211.6,129.1 217.5,127 222.6,124.8 224.3,126.5 226.8,124.4 231.1,124 235.3,118.1 236.2,115.5 240.8,113 245.1,114.9 250.2,114.9 256.4,112.2 260.1,109.9 263.8,111.3 265.2,103 272.1,100.2 280.3,98.8 282.2,102.1 284.5,95.6 285.8,97 292.3,92.4 297.8,92.9 296.4,84.6 299.6,85.5 305.1,86.9 310.7,90.1 314.3,85.5 313.4,82.8 317.1,80.9 328.1,82.3 332.9,85.3 334.6,87.8 338,87 343.9,86.5 344.8,85.3 352.4,85.7 352.8,97.1 353.7,98 352.5,107.3 352.5,112.5 356.7,115.2 361.7,113.3 365.8,112.9 365.4,117.1 366.8,121.7 370.4,118.9 375,123.5 378.8,128 384.5,129.5 388.8,135.7 388.3,129 391.2,125.2 393.1,123.3 394,124.7 399.7,122.4 401.6,123.8 403,125.5 406.4,118.6 418.7,119 423.5,116.7 426.3,117.1 424.4,121.4 433,124.7 442.5,115.7 451,121.4 453.4,125.2 451,128 451,135.7 456.2,136.6 462.4,147 464.3,149.9 468.2,151 467.3,167.6 461.3,169.4 456.3,170.3 450.8,172.2 448,174.9 442.5,174.9 440.7,180.4 441.6,186.9 442.5,190.1 437.9,191.5 437,197 441.3,200.7 438.5,204.7 436.8,208.1 437.3,211.5 435.1,214.3 433.4,216.6 431.5,216.5 430.5,217.7 429.4,220 427.1,219.4 426,221.7 423.8,223.4 422.1,223.9 421.5,227.3 420.9,229 420.9,231.9 418.7,232.4 417,238.6 414.7,243.7 415.8,247.7 412.4,253.3 408.5,260.7 411.5,263.4 415.7,269.4 415.2,274.4 412.4,276.3 412.4,280 407.8,281.3 402.8,282.3 401.4,288.2 401.9,291.5 393.1,298.4 389.9,300.2 391.6,301.5 394.3,309.2 388.4,312.3 379.4,313.2 378.1,310 376.4,305.1 373.6,304.2 370.9,307 368.3,314.2 366.5,309 365.4,300.6 363.5,292.3 361.7,289.5 357.1,290.4 353.4,286.8 348.8,287.7 344.2,291.4 338.7,284.9 335,286.8 333.2,289.5 335,293.2 336,297.8 331.4,300.6 330.4,304.2 326.8,311.6 320.3,311.6 317.6,306.1 311.1,301.5 310.2,299.6 303.8,300.6 301.9,296 299.2,290.4 296.8,290.6 289.4,286.4 287.3,287.9 284.1,277.9 282,276.8 279.8,277.9 275.6,272.6 277.2,270.5 268.7,262.5 267.6,256.1 265,256.7 259.7,262 257,267.8 260.8,269.9 255.5,276.8 249.6,289.5 240.6,285.3 240.1,282.1 243.8,277.9 244.8,268.9 249.1,268.3 250.1,260.9 244.8,257.7 240.6,258.3 235.3,251.4 232.4,248.3 226.5,246.3 219.6,245.3 216.6,241.4 212.1,240.9 211.6,236.9 204.2,236.4 203.7,233.5 195.8,234 194.3,231.5 193.8,226.5 190.8,225.5 191.3,222.1 184.9,219.6 180.9,219.1 179,216.6 177.5,209.7 177,204.8 179.5,199.3 180.9,195.8 181.4,191.9 179,187.9 179,180 177.4,173.4 181.4,166 183.6,162.6 186.1,161.7 187.8,158.3 185.3,146.5 181.9,143.9 176.8,146.5 174.2,138 174.7,132 174.2,125.3Z" fill="#dcf4de" stroke="none"/>
<path d="M250.5,175.5L255.2,171.7 263.7,163.3 265.4,157.3 267.9,154.4 275.5,150.5 279.8,145.4 282.3,140.8 287.4,139.5 292.5,135.3 297.6,131.5 302.7,129.8 309.5,125.5 314.5,126.8 321.3,124.2 324.2,124.3 337,125.6 340.4,126.5 343.7,125.6 346.3,127.7 350.5,132.4 355.6,133.2 362.4,135.4 367.5,134.9 370.9,136.2 373,140.4 374.3,146.4 381.1,157.4 382.8,161.6 383.4,170 385.3,177.4 384.4,189.3 381.6,192.1 382.1,199.4 379.8,206.8 377,214.1 371.5,219.7 365.1,223.3 353.1,224.7 347.6,226.1 339.3,227.9 333.8,226.1 327.4,227 325,228.4 318.6,227 311.2,224.3 302,216.9 296.5,217.4 291,218.7 284.5,219.2 276.3,216 268,214.6 257.4,215.1 257,210.5 254.2,204.9 253.7,200.3 254.7,196.7 251.4,191.1 251,181Z" fill="#acdfb0" stroke="none"/>
<path d="M297.3,181.6L303.3,179.1 308.3,178 313.2,175.2 314.7,176.3 318.2,174.5 323.8,175.9 328.1,178.4 331.3,181.9 331.6,186.2 330.6,190.4 328.8,194.7 325.3,196.1 321.7,195.7 320.3,197.5 317.5,199.6 314,201.4 309.7,199.2 306.2,195.4 304,192.9 301.9,191.5 302.6,190.4 299.8,186.2 297.3,182.6Z" fill="#2a6b36" stroke="none"/>
<path d="M184.4,126.1 L181.9,135 L187,131.6 Z" fill="#fff" stroke="none"/>
<path d="M296,83.7L305,82.5 314.3,81.8 M278.5,95.2L283.1,93.8 M352.1,106.5L364.9,108.8 366,112.8 M427.3,116.2L438.7,112.9 442.5,115.7 M452.9,130L455.8,130.4 456.2,135.2 M464.5,150L469.5,149.8 472.6,149.8 480.4,163.8 468.7,165.3 M442.8,186L443.6,176.5 446.8,175.6 447.4,182.5 M451,175L451,178.5 456,178 455.5,172 M414.7,244.3L419.8,252.8 415.8,253.3 416.4,268.1 M401.9,291.5L405,287 402.8,282.3 M394.3,309.2L392,313 385,314.5 379.4,313.2 M336,297.8L343.3,294.1 342.4,289.5 M303.8,300.6L303.8,308.8 312.1,312.5 316.8,318.4 321.2,311.8 M268.7,262.5L270,270 276,275 275.6,272.6 M279.8,277.9L277.5,283 282,289 287.3,287.9 M240.6,285.3L239.5,294 245,293 249.6,289.5 M174.7,132L177,140 176.8,146.5 M181.9,143.9L181,150 183,158 186.1,161.7 M177,204.8L174.5,212 178.7,216.4 M190.8,225.5L193,233 195.8,234 M204.2,236.4L207,240 211.6,236.9 M226.5,246.3L230,250 232.4,248.3 M181.9,135L185,132 184.4,126.1 M192,128.5L197,125.5 206,126.5 211.6,129.1 M222.6,124.8L226,121 231.1,124 M266,103L268,101 272.2,100.4" fill="none" stroke="#c8c8c8" stroke-width="0.9" stroke-linejoin="round"/>
<path d="M209.4,131L212.2,143 216.8,154 218.6,163.2 M218.6,163.2L229.6,160.4 235.1,161.4 244.3,167.8 246.2,175.1 250.8,176.1 M218.6,163.2L212.2,166.9 211.3,168.7 204.8,172.8 207.6,175.1 219.5,178.8 217.7,185 214.6,191.9 208.7,195.8 206.7,202.8 206.7,211.7 199.8,219.6 192.8,226.5 M235.1,161.4L238.8,154 237.9,148.5 244.3,143.9 253.5,142.1 251.7,138.4 258.1,136.1 M249.9,122.8L258.1,135.6 265.5,144.8 265.5,153.1 M208.7,195.8L219.6,197.8 222.5,199.8 228.5,196.8 244.3,197.8 250.2,195.8 M250.2,201.8L242.3,212.7 239.4,219.6 227.5,219.6 218.6,224.6 223.5,229.5 218.6,237.4 217.6,247.3 M244.3,235.4L253.2,238.4 254.2,240.4 264.1,233.5 267.2,232.1 M264.4,217.4L265.3,222 269.9,226.5 267.2,232.1 259.8,236.7 254.3,241.3 252.5,236.7 245.1,235.7 246.9,240.3 246,254.1 244.2,259.6 M267.2,232.1L289.2,228.4 290.1,233.9 293.8,239.4 304.9,241.3 308.5,236.7 307.6,224.7 M267.2,232.1L269,244.9 270.8,254.1 271.8,259.6 M273.6,259.6L281,264.2 287.4,258.7 297.5,256.9 304.9,257.8 313.1,256 314,250.4 310.4,246.8 305.8,244.9 308.5,242.2 M313.1,245.8L315.9,239.4 323.2,237.6 331.8,236.8 M313.1,256L312.1,257.4 316.7,282.2 308.4,286.8 306.5,294.1 303.8,300.6 M312.1,257.4L297.4,256.4 290,260.1 281,264.2 M337.8,250L345.1,257.4 349.7,264.7 354.3,274.8 359.9,280.3 360.8,287.7 M338.3,227.6L332.8,234 331.8,241.4 339.2,251.5 345.6,257 348.4,265 M368.6,227.6L373.2,234 373.2,236.8 366.8,234.9 360.3,238.6 354.8,242.3 352.1,238.6 346.5,236.8 339.2,236.8 331.8,236.8 M403.3,203.2L395.6,205.6 390.1,209.5 388.6,215.7 390.1,221.1 387.8,229.7 382.4,235.4 374.1,227.6 368.6,224.8 M387.8,229.7L395.6,236.7 402.6,242.1 M285.8,97L298.7,102.1 301.5,107.6 307.9,114.9 308.8,118.6 304.2,126 M352.1,106L349.3,115.2 345.6,122.6 M410.3,119.4L412.7,131.1 405.7,138.9 404.1,151.3 398.7,157.6 390.9,162.2 384.7,165.3 M412.7,131.1L411.9,148.2 418.9,152.1 425.1,152.9 426.7,159.1 422,170 417.3,184 M417.3,184L403.3,182.5 394,182.5 388.6,174.7 383.1,174.7 M403.3,182.5L403.3,204.2 M417.3,184L425.1,193.4 426.7,198 434.5,199.6 440.7,200.7 M394,182.5L386.2,190.2" fill="none" stroke="#000" stroke-opacity="0.1" stroke-width="0.9" stroke-linejoin="round"/>
<path d="M300.6,132.8L298.2,139 296.7,148.3 293.6,153 287.3,158.4 280.3,161.6 274.9,155.3 272.6,153.8 267.9,154.4 M280.3,161.6L285,169.3 288.1,174.8 286.6,180 M296.7,148.3L304.4,151.4 312.2,149.1 320,154.6 M304.4,151.4L307.6,160 312.2,167 313.8,174 M251,175.9L265.6,175.1 274.9,176.7 283.4,175.1 290.4,175.9 M290.4,170.9L300.6,171.7 304.4,180 M342.2,129.7L338.3,137.4 335.2,146.8 330.6,148.3 322,149.9 318.9,153 M335.2,146.8L341.4,154.6 349.2,159.2 355.4,161.6 361.7,159.2 364.8,158.4 374.1,158.4 375.7,154.6 M361.7,139L364,148.3 363.2,156.1 M315,151.4L323.6,156.1 329,163.9 326.7,171.7 323.8,175.9 M351.6,162.3L350,167 346.1,166.2 340.7,170.1 332.1,173.2 330.6,180 M350,167L350.8,171.7 355.4,180 356.7,181.2 360,184.5 360,188.7 M342,130L335.5,145.6 M265.6,175.1L266.3,182.1 268.7,190.7 265.6,194.6 257.8,196.1 253.1,194.6 M274.9,176.7L275.7,182.1 279.6,189.9 282.7,194.6 287.3,200 292.8,207.8 293.6,206.2 M281.1,178.2L285,181.3 288.9,187.6 293.6,193.8 299.8,190.7 M267.9,203.1L274.1,201.6 275.7,209.3 279.6,214 288.9,214 292.8,210.9 293.6,206.2 301.3,203.1 309.1,203.1 313.8,201.6 M267.9,203.1L267.1,208.6 271.8,212.4 268,214.6 M301.3,193.8L304.4,203.1 M312.2,201.6L309.1,207.8 304.4,212.4 306,218.7 M331.7,190.3L340,187.8 345,187.8 347.5,191.2 347.5,196.2 342.5,197 340,201.2 339.2,207 341.7,213.7 341.7,221.2 339.2,227.9 M347.5,196.2L351.7,200.4 357.5,198.7 357.5,191.2 360,188.7 365,192 373.4,192.9 380.9,192 M353.4,174.5L350,172 M351.7,200.4L350.9,205.4 353.4,208.7 365,207.9 362.5,212.9 365,219.5 M319.2,201.2L324.2,210.4 325.8,213.7 322.5,220.4 324.2,225.4 M364.9,124.4L362.2,133.6 363.1,142.8 364,154.7 M330,146.5L335.5,145.6 342,154.7 344,163" fill="none" stroke="#000" stroke-opacity="0.06" stroke-width="0.9" stroke-linejoin="round"/>
<path d="M250.5,175.5L255.2,171.7 263.7,163.3 265.4,157.3 267.9,154.4 275.5,150.5 279.8,145.4 282.3,140.8 287.4,139.5 292.5,135.3 297.6,131.5 302.7,129.8 309.5,125.5 314.5,126.8 321.3,124.2 324.2,124.3 337,125.6 340.4,126.5 343.7,125.6 346.3,127.7 350.5,132.4 355.6,133.2 362.4,135.4 367.5,134.9 370.9,136.2 373,140.4 374.3,146.4 381.1,157.4 382.8,161.6 383.4,170 385.3,177.4 384.4,189.3 381.6,192.1 382.1,199.4 379.8,206.8 377,214.1 371.5,219.7 365.1,223.3 353.1,224.7 347.6,226.1 339.3,227.9 333.8,226.1 327.4,227 325,228.4 318.6,227 311.2,224.3 302,216.9 296.5,217.4 291,218.7 284.5,219.2 276.3,216 268,214.6 257.4,215.1 257,210.5 254.2,204.9 253.7,200.3 254.7,196.7 251.4,191.1 251,181Z" fill="none" stroke="#3a3a3a" stroke-width="1.05" stroke-linejoin="round"/>
<path d="M297.3,181.6L303.3,179.1 308.3,178 313.2,175.2 314.7,176.3 318.2,174.5 323.8,175.9 328.1,178.4 331.3,181.9 331.6,186.2 330.6,190.4 328.8,194.7 325.3,196.1 321.7,195.7 320.3,197.5 317.5,199.6 314,201.4 309.7,199.2 306.2,195.4 304,192.9 301.9,191.5 302.6,190.4 299.8,186.2 297.3,182.6Z" fill="none" stroke="#222" stroke-width="1.1" stroke-linejoin="round"/>
<path d="M174.7,119.8L177.2,120.2 184.4,126.1 181.9,135 187,131.6 192.1,129.1 193.7,127.4 197.1,128.2 198.8,130.4 204.8,130.4 206.5,128.7 211.6,129.1 217.5,127 222.6,124.8 224.3,126.5 226.8,124.4 231.1,124 235.3,118.1 236.2,115.5 240.8,113 245.1,114.9 250.2,114.9 256.4,112.2 260.1,109.9 263.8,111.3 265.2,103 272.1,100.2 280.3,98.8 282.2,102.1 284.5,95.6 285.8,97 292.3,92.4 297.8,92.9 296.4,84.6 299.6,85.5 305.1,86.9 310.7,90.1 314.3,85.5 313.4,82.8 317.1,80.9 328.1,82.3 332.9,85.3 334.6,87.8 338,87 343.9,86.5 344.8,85.3 352.4,85.7 352.8,97.1 353.7,98 352.5,107.3 352.5,112.5 356.7,115.2 361.7,113.3 365.8,112.9 365.4,117.1 366.8,121.7 370.4,118.9 375,123.5 378.8,128 384.5,129.5 388.8,135.7 388.3,129 391.2,125.2 393.1,123.3 394,124.7 399.7,122.4 401.6,123.8 403,125.5 406.4,118.6 418.7,119 423.5,116.7 426.3,117.1 424.4,121.4 433,124.7 442.5,115.7 451,121.4 453.4,125.2 451,128 451,135.7 456.2,136.6 462.4,147 464.3,149.9 468.2,151 467.3,167.6 461.3,169.4 456.3,170.3 450.8,172.2 448,174.9 442.5,174.9 440.7,180.4 441.6,186.9 442.5,190.1 437.9,191.5 437,197 441.3,200.7 438.5,204.7 436.8,208.1 437.3,211.5 435.1,214.3 433.4,216.6 431.5,216.5 430.5,217.7 429.4,220 427.1,219.4 426,221.7 423.8,223.4 422.1,223.9 421.5,227.3 420.9,229 420.9,231.9 418.7,232.4 417,238.6 414.7,243.7 415.8,247.7 412.4,253.3 408.5,260.7 411.5,263.4 415.7,269.4 415.2,274.4 412.4,276.3 412.4,280 407.8,281.3 402.8,282.3 401.4,288.2 401.9,291.5 393.1,298.4 389.9,300.2 391.6,301.5 394.3,309.2 388.4,312.3 379.4,313.2 378.1,310 376.4,305.1 373.6,304.2 370.9,307 368.3,314.2 366.5,309 365.4,300.6 363.5,292.3 361.7,289.5 357.1,290.4 353.4,286.8 348.8,287.7 344.2,291.4 338.7,284.9 335,286.8 333.2,289.5 335,293.2 336,297.8 331.4,300.6 330.4,304.2 326.8,311.6 320.3,311.6 317.6,306.1 311.1,301.5 310.2,299.6 303.8,300.6 301.9,296 299.2,290.4 296.8,290.6 289.4,286.4 287.3,287.9 284.1,277.9 282,276.8 279.8,277.9 275.6,272.6 277.2,270.5 268.7,262.5 267.6,256.1 265,256.7 259.7,262 257,267.8 260.8,269.9 255.5,276.8 249.6,289.5 240.6,285.3 240.1,282.1 243.8,277.9 244.8,268.9 249.1,268.3 250.1,260.9 244.8,257.7 240.6,258.3 235.3,251.4 232.4,248.3 226.5,246.3 219.6,245.3 216.6,241.4 212.1,240.9 211.6,236.9 204.2,236.4 203.7,233.5 195.8,234 194.3,231.5 193.8,226.5 190.8,225.5 191.3,222.1 184.9,219.6 180.9,219.1 179,216.6 177.5,209.7 177,204.8 179.5,199.3 180.9,195.8 181.4,191.9 179,187.9 179,180 177.4,173.4 181.4,166 183.6,162.6 186.1,161.7 187.8,158.3 185.3,146.5 181.9,143.9 176.8,146.5 174.2,138 174.7,132 174.2,125.3Z M263.8,111.3L267.5,111.3 275.7,104.8 272.1,100.2 M245.1,114.9L251,122.9 M246.6,113.9L252.4,121.8 M257.4,113.5L260.4,118.7 M403,125.5L404.5,127.6 402.6,128.5 M464.3,149.9L461.3,169.4 M451,128L447.7,129.5 M461.8,146.4L456.3,144.6 450.8,143.7 M442.5,190.1L431.5,184.1 426.4,183.2 M422.1,223.9L417,221.7 M421.5,227.3L418.7,226.8 414.7,227.9 M414.7,243.7L412.4,243.2 407.9,240.3 402.3,242 M179.5,199.3L189.9,198.3 208.7,200.8 M255.5,276.8L248,275.2 M376,126.3L375.5,131.8 371.4,136.4 M353.4,286.8L347.9,279.4 M373.6,304.2L372.7,301.5 M331.4,300.6L324.9,295 319.4,288.6 M365.4,117.1L367.6,117 368.4,121.3 366.8,121.7 M384.5,129.5L388.3,129 M244.8,268.9L249.1,268.3 254.4,268.6 257,267.8" fill="none" stroke="#2a2a2a" stroke-width="1.1" stroke-linejoin="round"/>
<path d="M375.6,126.5 L375.2,131.8 L371.6,136.2 L373,140.4 L374.3,146.4" fill="none" stroke="#111" stroke-width="1.6" stroke-linejoin="round" stroke-linecap="round"/>
</g><g transform="translate(398,284)">
<path d="M174.7,119.8L177.2,120.2 184.4,126.1 181.9,135 187,131.6 192.1,129.1 193.7,127.4 197.1,128.2 198.8,130.4 204.8,130.4 206.5,128.7 211.6,129.1 217.5,127 222.6,124.8 224.3,126.5 226.8,124.4 231.1,124 235.3,118.1 236.2,115.5 240.8,113 245.1,114.9 250.2,114.9 256.4,112.2 260.1,109.9 263.8,111.3 265.2,103 272.1,100.2 280.3,98.8 282.2,102.1 284.5,95.6 285.8,97 292.3,92.4 297.8,92.9 296.4,84.6 299.6,85.5 305.1,86.9 310.7,90.1 314.3,85.5 313.4,82.8 317.1,80.9 328.1,82.3 332.9,85.3 334.6,87.8 338,87 343.9,86.5 344.8,85.3 352.4,85.7 352.8,97.1 353.7,98 352.5,107.3 352.5,112.5 356.7,115.2 361.7,113.3 365.8,112.9 365.4,117.1 366.8,121.7 370.4,118.9 375,123.5 378.8,128 384.5,129.5 388.8,135.7 388.3,129 391.2,125.2 393.1,123.3 394,124.7 399.7,122.4 401.6,123.8 403,125.5 406.4,118.6 418.7,119 423.5,116.7 426.3,117.1 424.4,121.4 433,124.7 442.5,115.7 451,121.4 453.4,125.2 451,128 451,135.7 456.2,136.6 462.4,147 464.3,149.9 468.2,151 467.3,167.6 461.3,169.4 456.3,170.3 450.8,172.2 448,174.9 442.5,174.9 440.7,180.4 441.6,186.9 442.5,190.1 437.9,191.5 437,197 441.3,200.7 438.5,204.7 436.8,208.1 437.3,211.5 435.1,214.3 433.4,216.6 431.5,216.5 430.5,217.7 429.4,220 427.1,219.4 426,221.7 423.8,223.4 422.1,223.9 421.5,227.3 420.9,229 420.9,231.9 418.7,232.4 417,238.6 414.7,243.7 415.8,247.7 412.4,253.3 408.5,260.7 411.5,263.4 415.7,269.4 415.2,274.4 412.4,276.3 412.4,280 407.8,281.3 402.8,282.3 401.4,288.2 401.9,291.5 393.1,298.4 389.9,300.2 391.6,301.5 394.3,309.2 388.4,312.3 379.4,313.2 378.1,310 376.4,305.1 373.6,304.2 370.9,307 368.3,314.2 366.5,309 365.4,300.6 363.5,292.3 361.7,289.5 357.1,290.4 353.4,286.8 348.8,287.7 344.2,291.4 338.7,284.9 335,286.8 333.2,289.5 335,293.2 336,297.8 331.4,300.6 330.4,304.2 326.8,311.6 320.3,311.6 317.6,306.1 311.1,301.5 310.2,299.6 303.8,300.6 301.9,296 299.2,290.4 296.8,290.6 289.4,286.4 287.3,287.9 284.1,277.9 282,276.8 279.8,277.9 275.6,272.6 277.2,270.5 268.7,262.5 267.6,256.1 265,256.7 259.7,262 257,267.8 260.8,269.9 255.5,276.8 249.6,289.5 240.6,285.3 240.1,282.1 243.8,277.9 244.8,268.9 249.1,268.3 250.1,260.9 244.8,257.7 240.6,258.3 235.3,251.4 232.4,248.3 226.5,246.3 219.6,245.3 216.6,241.4 212.1,240.9 211.6,236.9 204.2,236.4 203.7,233.5 195.8,234 194.3,231.5 193.8,226.5 190.8,225.5 191.3,222.1 184.9,219.6 180.9,219.1 179,216.6 177.5,209.7 177,204.8 179.5,199.3 180.9,195.8 181.4,191.9 179,187.9 179,180 177.4,173.4 181.4,166 183.6,162.6 186.1,161.7 187.8,158.3 185.3,146.5 181.9,143.9 176.8,146.5 174.2,138 174.7,132 174.2,125.3Z" fill="#e2f5e3" stroke="none"/>
<path d="M250.5,175.5L255.2,171.7 263.7,163.3 265.4,157.3 267.9,154.4 275.5,150.5 279.8,145.4 282.3,140.8 287.4,139.5 292.5,135.3 297.6,131.5 302.7,129.8 309.5,125.5 314.5,126.8 321.3,124.2 324.2,124.3 337,125.6 340.4,126.5 343.7,125.6 346.3,127.7 350.5,132.4 355.6,133.2 362.4,135.4 367.5,134.9 370.9,136.2 373,140.4 374.3,146.4 381.1,157.4 382.8,161.6 383.4,170 385.3,177.4 384.4,189.3 381.6,192.1 382.1,199.4 379.8,206.8 377,214.1 371.5,219.7 365.1,223.3 353.1,224.7 347.6,226.1 339.3,227.9 333.8,226.1 327.4,227 325,228.4 318.6,227 311.2,224.3 302,216.9 296.5,217.4 291,218.7 284.5,219.2 276.3,216 268,214.6 257.4,215.1 257,210.5 254.2,204.9 253.7,200.3 254.7,196.7 251.4,191.1 251,181Z" fill="#c1e7c4" stroke="none"/>
<path d="M297.3,181.6L303.3,179.1 308.3,178 313.2,175.2 314.7,176.3 318.2,174.5 323.8,175.9 328.1,178.4 331.3,181.9 331.6,186.2 330.6,190.4 328.8,194.7 325.3,196.1 321.7,195.7 320.3,197.5 317.5,199.6 314,201.4 309.7,199.2 306.2,195.4 304,192.9 301.9,191.5 302.6,190.4 299.8,186.2 297.3,182.6Z" fill="#3e9250" stroke="none"/>
<path d="M184.4,126.1 L181.9,135 L187,131.6 Z" fill="#fff" stroke="none"/>
<path d="M296,83.7L305,82.5 314.3,81.8 M278.5,95.2L283.1,93.8 M352.1,106.5L364.9,108.8 366,112.8 M427.3,116.2L438.7,112.9 442.5,115.7 M452.9,130L455.8,130.4 456.2,135.2 M464.5,150L469.5,149.8 472.6,149.8 480.4,163.8 468.7,165.3 M442.8,186L443.6,176.5 446.8,175.6 447.4,182.5 M451,175L451,178.5 456,178 455.5,172 M414.7,244.3L419.8,252.8 415.8,253.3 416.4,268.1 M401.9,291.5L405,287 402.8,282.3 M394.3,309.2L392,313 385,314.5 379.4,313.2 M336,297.8L343.3,294.1 342.4,289.5 M303.8,300.6L303.8,308.8 312.1,312.5 316.8,318.4 321.2,311.8 M268.7,262.5L270,270 276,275 275.6,272.6 M279.8,277.9L277.5,283 282,289 287.3,287.9 M240.6,285.3L239.5,294 245,293 249.6,289.5 M174.7,132L177,140 176.8,146.5 M181.9,143.9L181,150 183,158 186.1,161.7 M177,204.8L174.5,212 178.7,216.4 M190.8,225.5L193,233 195.8,234 M204.2,236.4L207,240 211.6,236.9 M226.5,246.3L230,250 232.4,248.3 M181.9,135L185,132 184.4,126.1 M192,128.5L197,125.5 206,126.5 211.6,129.1 M222.6,124.8L226,121 231.1,124 M266,103L268,101 272.2,100.4" fill="none" stroke="#c8c8c8" stroke-width="0.9" stroke-linejoin="round"/>
<path d="M209.4,131L212.2,143 216.8,154 218.6,163.2 M218.6,163.2L229.6,160.4 235.1,161.4 244.3,167.8 246.2,175.1 250.8,176.1 M218.6,163.2L212.2,166.9 211.3,168.7 204.8,172.8 207.6,175.1 219.5,178.8 217.7,185 214.6,191.9 208.7,195.8 206.7,202.8 206.7,211.7 199.8,219.6 192.8,226.5 M235.1,161.4L238.8,154 237.9,148.5 244.3,143.9 253.5,142.1 251.7,138.4 258.1,136.1 M249.9,122.8L258.1,135.6 265.5,144.8 265.5,153.1 M208.7,195.8L219.6,197.8 222.5,199.8 228.5,196.8 244.3,197.8 250.2,195.8 M250.2,201.8L242.3,212.7 239.4,219.6 227.5,219.6 218.6,224.6 223.5,229.5 218.6,237.4 217.6,247.3 M244.3,235.4L253.2,238.4 254.2,240.4 264.1,233.5 267.2,232.1 M264.4,217.4L265.3,222 269.9,226.5 267.2,232.1 259.8,236.7 254.3,241.3 252.5,236.7 245.1,235.7 246.9,240.3 246,254.1 244.2,259.6 M267.2,232.1L289.2,228.4 290.1,233.9 293.8,239.4 304.9,241.3 308.5,236.7 307.6,224.7 M267.2,232.1L269,244.9 270.8,254.1 271.8,259.6 M273.6,259.6L281,264.2 287.4,258.7 297.5,256.9 304.9,257.8 313.1,256 314,250.4 310.4,246.8 305.8,244.9 308.5,242.2 M313.1,245.8L315.9,239.4 323.2,237.6 331.8,236.8 M313.1,256L312.1,257.4 316.7,282.2 308.4,286.8 306.5,294.1 303.8,300.6 M312.1,257.4L297.4,256.4 290,260.1 281,264.2 M337.8,250L345.1,257.4 349.7,264.7 354.3,274.8 359.9,280.3 360.8,287.7 M338.3,227.6L332.8,234 331.8,241.4 339.2,251.5 345.6,257 348.4,265 M368.6,227.6L373.2,234 373.2,236.8 366.8,234.9 360.3,238.6 354.8,242.3 352.1,238.6 346.5,236.8 339.2,236.8 331.8,236.8 M403.3,203.2L395.6,205.6 390.1,209.5 388.6,215.7 390.1,221.1 387.8,229.7 382.4,235.4 374.1,227.6 368.6,224.8 M387.8,229.7L395.6,236.7 402.6,242.1 M285.8,97L298.7,102.1 301.5,107.6 307.9,114.9 308.8,118.6 304.2,126 M352.1,106L349.3,115.2 345.6,122.6 M410.3,119.4L412.7,131.1 405.7,138.9 404.1,151.3 398.7,157.6 390.9,162.2 384.7,165.3 M412.7,131.1L411.9,148.2 418.9,152.1 425.1,152.9 426.7,159.1 422,170 417.3,184 M417.3,184L403.3,182.5 394,182.5 388.6,174.7 383.1,174.7 M403.3,182.5L403.3,204.2 M417.3,184L425.1,193.4 426.7,198 434.5,199.6 440.7,200.7 M394,182.5L386.2,190.2" fill="none" stroke="#000" stroke-opacity="0.1" stroke-width="0.9" stroke-linejoin="round"/>
<path d="M300.6,132.8L298.2,139 296.7,148.3 293.6,153 287.3,158.4 280.3,161.6 274.9,155.3 272.6,153.8 267.9,154.4 M280.3,161.6L285,169.3 288.1,174.8 286.6,180 M296.7,148.3L304.4,151.4 312.2,149.1 320,154.6 M304.4,151.4L307.6,160 312.2,167 313.8,174 M251,175.9L265.6,175.1 274.9,176.7 283.4,175.1 290.4,175.9 M290.4,170.9L300.6,171.7 304.4,180 M342.2,129.7L338.3,137.4 335.2,146.8 330.6,148.3 322,149.9 318.9,153 M335.2,146.8L341.4,154.6 349.2,159.2 355.4,161.6 361.7,159.2 364.8,158.4 374.1,158.4 375.7,154.6 M361.7,139L364,148.3 363.2,156.1 M315,151.4L323.6,156.1 329,163.9 326.7,171.7 323.8,175.9 M351.6,162.3L350,167 346.1,166.2 340.7,170.1 332.1,173.2 330.6,180 M350,167L350.8,171.7 355.4,180 356.7,181.2 360,184.5 360,188.7 M342,130L335.5,145.6 M265.6,175.1L266.3,182.1 268.7,190.7 265.6,194.6 257.8,196.1 253.1,194.6 M274.9,176.7L275.7,182.1 279.6,189.9 282.7,194.6 287.3,200 292.8,207.8 293.6,206.2 M281.1,178.2L285,181.3 288.9,187.6 293.6,193.8 299.8,190.7 M267.9,203.1L274.1,201.6 275.7,209.3 279.6,214 288.9,214 292.8,210.9 293.6,206.2 301.3,203.1 309.1,203.1 313.8,201.6 M267.9,203.1L267.1,208.6 271.8,212.4 268,214.6 M301.3,193.8L304.4,203.1 M312.2,201.6L309.1,207.8 304.4,212.4 306,218.7 M331.7,190.3L340,187.8 345,187.8 347.5,191.2 347.5,196.2 342.5,197 340,201.2 339.2,207 341.7,213.7 341.7,221.2 339.2,227.9 M347.5,196.2L351.7,200.4 357.5,198.7 357.5,191.2 360,188.7 365,192 373.4,192.9 380.9,192 M353.4,174.5L350,172 M351.7,200.4L350.9,205.4 353.4,208.7 365,207.9 362.5,212.9 365,219.5 M319.2,201.2L324.2,210.4 325.8,213.7 322.5,220.4 324.2,225.4 M364.9,124.4L362.2,133.6 363.1,142.8 364,154.7 M330,146.5L335.5,145.6 342,154.7 344,163" fill="none" stroke="#000" stroke-opacity="0.06" stroke-width="0.9" stroke-linejoin="round"/>
<path d="M250.5,175.5L255.2,171.7 263.7,163.3 265.4,157.3 267.9,154.4 275.5,150.5 279.8,145.4 282.3,140.8 287.4,139.5 292.5,135.3 297.6,131.5 302.7,129.8 309.5,125.5 314.5,126.8 321.3,124.2 324.2,124.3 337,125.6 340.4,126.5 343.7,125.6 346.3,127.7 350.5,132.4 355.6,133.2 362.4,135.4 367.5,134.9 370.9,136.2 373,140.4 374.3,146.4 381.1,157.4 382.8,161.6 383.4,170 385.3,177.4 384.4,189.3 381.6,192.1 382.1,199.4 379.8,206.8 377,214.1 371.5,219.7 365.1,223.3 353.1,224.7 347.6,226.1 339.3,227.9 333.8,226.1 327.4,227 325,228.4 318.6,227 311.2,224.3 302,216.9 296.5,217.4 291,218.7 284.5,219.2 276.3,216 268,214.6 257.4,215.1 257,210.5 254.2,204.9 253.7,200.3 254.7,196.7 251.4,191.1 251,181Z" fill="none" stroke="#3a3a3a" stroke-width="1.05" stroke-linejoin="round"/>
<path d="M297.3,181.6L303.3,179.1 308.3,178 313.2,175.2 314.7,176.3 318.2,174.5 323.8,175.9 328.1,178.4 331.3,181.9 331.6,186.2 330.6,190.4 328.8,194.7 325.3,196.1 321.7,195.7 320.3,197.5 317.5,199.6 314,201.4 309.7,199.2 306.2,195.4 304,192.9 301.9,191.5 302.6,190.4 299.8,186.2 297.3,182.6Z" fill="none" stroke="#222" stroke-width="1.1" stroke-linejoin="round"/>
<path d="M174.7,119.8L177.2,120.2 184.4,126.1 181.9,135 187,131.6 192.1,129.1 193.7,127.4 197.1,128.2 198.8,130.4 204.8,130.4 206.5,128.7 211.6,129.1 217.5,127 222.6,124.8 224.3,126.5 226.8,124.4 231.1,124 235.3,118.1 236.2,115.5 240.8,113 245.1,114.9 250.2,114.9 256.4,112.2 260.1,109.9 263.8,111.3 265.2,103 272.1,100.2 280.3,98.8 282.2,102.1 284.5,95.6 285.8,97 292.3,92.4 297.8,92.9 296.4,84.6 299.6,85.5 305.1,86.9 310.7,90.1 314.3,85.5 313.4,82.8 317.1,80.9 328.1,82.3 332.9,85.3 334.6,87.8 338,87 343.9,86.5 344.8,85.3 352.4,85.7 352.8,97.1 353.7,98 352.5,107.3 352.5,112.5 356.7,115.2 361.7,113.3 365.8,112.9 365.4,117.1 366.8,121.7 370.4,118.9 375,123.5 378.8,128 384.5,129.5 388.8,135.7 388.3,129 391.2,125.2 393.1,123.3 394,124.7 399.7,122.4 401.6,123.8 403,125.5 406.4,118.6 418.7,119 423.5,116.7 426.3,117.1 424.4,121.4 433,124.7 442.5,115.7 451,121.4 453.4,125.2 451,128 451,135.7 456.2,136.6 462.4,147 464.3,149.9 468.2,151 467.3,167.6 461.3,169.4 456.3,170.3 450.8,172.2 448,174.9 442.5,174.9 440.7,180.4 441.6,186.9 442.5,190.1 437.9,191.5 437,197 441.3,200.7 438.5,204.7 436.8,208.1 437.3,211.5 435.1,214.3 433.4,216.6 431.5,216.5 430.5,217.7 429.4,220 427.1,219.4 426,221.7 423.8,223.4 422.1,223.9 421.5,227.3 420.9,229 420.9,231.9 418.7,232.4 417,238.6 414.7,243.7 415.8,247.7 412.4,253.3 408.5,260.7 411.5,263.4 415.7,269.4 415.2,274.4 412.4,276.3 412.4,280 407.8,281.3 402.8,282.3 401.4,288.2 401.9,291.5 393.1,298.4 389.9,300.2 391.6,301.5 394.3,309.2 388.4,312.3 379.4,313.2 378.1,310 376.4,305.1 373.6,304.2 370.9,307 368.3,314.2 366.5,309 365.4,300.6 363.5,292.3 361.7,289.5 357.1,290.4 353.4,286.8 348.8,287.7 344.2,291.4 338.7,284.9 335,286.8 333.2,289.5 335,293.2 336,297.8 331.4,300.6 330.4,304.2 326.8,311.6 320.3,311.6 317.6,306.1 311.1,301.5 310.2,299.6 303.8,300.6 301.9,296 299.2,290.4 296.8,290.6 289.4,286.4 287.3,287.9 284.1,277.9 282,276.8 279.8,277.9 275.6,272.6 277.2,270.5 268.7,262.5 267.6,256.1 265,256.7 259.7,262 257,267.8 260.8,269.9 255.5,276.8 249.6,289.5 240.6,285.3 240.1,282.1 243.8,277.9 244.8,268.9 249.1,268.3 250.1,260.9 244.8,257.7 240.6,258.3 235.3,251.4 232.4,248.3 226.5,246.3 219.6,245.3 216.6,241.4 212.1,240.9 211.6,236.9 204.2,236.4 203.7,233.5 195.8,234 194.3,231.5 193.8,226.5 190.8,225.5 191.3,222.1 184.9,219.6 180.9,219.1 179,216.6 177.5,209.7 177,204.8 179.5,199.3 180.9,195.8 181.4,191.9 179,187.9 179,180 177.4,173.4 181.4,166 183.6,162.6 186.1,161.7 187.8,158.3 185.3,146.5 181.9,143.9 176.8,146.5 174.2,138 174.7,132 174.2,125.3Z M263.8,111.3L267.5,111.3 275.7,104.8 272.1,100.2 M245.1,114.9L251,122.9 M246.6,113.9L252.4,121.8 M257.4,113.5L260.4,118.7 M403,125.5L404.5,127.6 402.6,128.5 M464.3,149.9L461.3,169.4 M451,128L447.7,129.5 M461.8,146.4L456.3,144.6 450.8,143.7 M442.5,190.1L431.5,184.1 426.4,183.2 M422.1,223.9L417,221.7 M421.5,227.3L418.7,226.8 414.7,227.9 M414.7,243.7L412.4,243.2 407.9,240.3 402.3,242 M179.5,199.3L189.9,198.3 208.7,200.8 M255.5,276.8L248,275.2 M376,126.3L375.5,131.8 371.4,136.4 M353.4,286.8L347.9,279.4 M373.6,304.2L372.7,301.5 M331.4,300.6L324.9,295 319.4,288.6 M365.4,117.1L367.6,117 368.4,121.3 366.8,121.7 M384.5,129.5L388.3,129 M244.8,268.9L249.1,268.3 254.4,268.6 257,267.8" fill="none" stroke="#2a2a2a" stroke-width="1.1" stroke-linejoin="round"/>
<path d="M375.6,126.5 L375.2,131.8 L371.6,136.2 L373,140.4 L374.3,146.4" fill="none" stroke="#111" stroke-width="1.6" stroke-linejoin="round" stroke-linecap="round"/>
</g>
<rect x="520.5" y="633" width="135.5" height="26.8" fill="url(#cb)"/>
<g stroke="#fff" stroke-width="0.9" stroke-opacity="0.8">
<line x1="565.6" y1="633" x2="565.6" y2="638.4"/><line x1="565.6" y1="655" x2="565.6" y2="659.8"/>
<line x1="611.2" y1="633" x2="611.2" y2="638.4"/><line x1="611.2" y1="655" x2="611.2" y2="659.8"/>
</g>
<g font-family="Liberation Sans, sans-serif" font-weight="bold" fill="#111">
<text transform="translate(363.8,649.9) scale(1,1.035)" font-size="19">Policy effect (%)</text>
<g font-size="16" text-anchor="middle" transform="translate(0,680.5) scale(1,1.05) translate(0,-680.5)">
<text x="520.2" y="680.7">-30%</text>
<text x="565.2" y="680.7">-20%</text>
<text x="610.6" y="680.7">-10%</text>
<text x="656.2" y="680.7">0%</text>
</g>
</g>
</svg>
</body></html>
